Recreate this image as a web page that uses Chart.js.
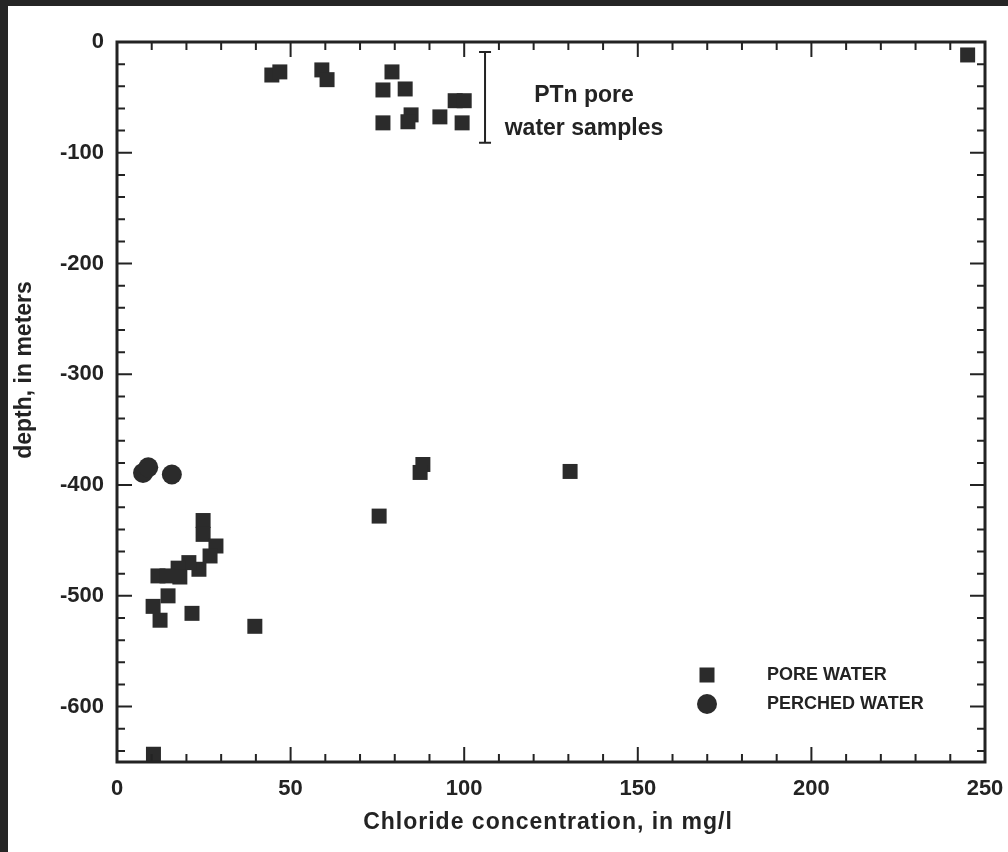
<!DOCTYPE html>
<html>
<head>
<meta charset="utf-8">
<script src="https://cdn.jsdelivr.net/npm/chart.js@4"></script>
<style>
  html, body { margin: 0; padding: 0; background: #fff; }
  #wrap { width: 1008px; height: 852px; position: relative; }
</style>
</head>
<body>
<div id="wrap"><canvas id="c" width="1008" height="852"></canvas></div>
<script>
// Pore water samples (chloride mg/l, depth m)
const poreX = [44.6, 46.9, 59.0, 60.5, 79.2, 76.6, 83.0, 76.6, 84.7, 83.8, 93.0, 97.4, 100.0, 99.4, 245.0,
               24.8, 24.8, 28.5, 26.8, 23.6, 20.7, 17.6, 18.1, 11.8, 14.4, 14.7, 10.4, 12.4, 21.6, 39.7,
               75.5, 88.1, 87.3, 130.5, 10.5];
const poreY = [-29.8, -27, -25.2, -34, -27, -43.3, -42.4, -73, -65.8, -72, -67.6, -53, -53, -73, -11.7,
               -432, -444.5, -455, -464, -476, -470, -475, -483, -482, -482, -500, -509.5, -522, -515.8, -527.5,
               -428, -381.4, -388.6, -387.7, -643];
// Perched water samples
const perchedX = [7.5, 9.0, 15.8];
const perchedY = [-389, -384, -390.5];

// Axis ranges and ticks
const xMin = 0, xMax = 250, xMajor = 50, xMinor = 10;
const yMin = -650, yMax = 0, yMajor = 100, yMinor = 20;

// PTn bracket annotation (data units)
const bracketX = 106, bracketTop = -9, bracketBottom = -91;
const bracketLabel = ['PTn pore', 'water samples'];
const bracketLabelX = 134.5, bracketLabelY = [-48, -78];

const seriesLabels = ['PORE WATER', 'PERCHED WATER'];
const ink = '#232323';
const markColor = '#2b2b2b';
const fontFamily = '"Liberation Sans", Arial, Helvetica, sans-serif';

const toPoints = (xs, ys) => xs.map((x, i) => ({ x: x, y: ys[i] }));

// Frame, inward ticks, annotation, legend, axis titles
const decorPlugin = {
    id: 'decor',
    beforeDraw(chart) {
        const ctx = chart.ctx;
        ctx.save();
        ctx.fillStyle = '#ffffff';
        ctx.fillRect(0, 0, chart.width, chart.height);
        // dark scan border on left and top
        ctx.fillStyle = '#262626';
        ctx.fillRect(0, 0, 8, chart.height);
        ctx.fillRect(0, 0, chart.width, 6);
        ctx.restore();
    },
    afterDatasetsDraw(chart) {
        const ctx = chart.ctx;
        const ca = chart.chartArea;
        const xs = chart.scales.x, ys = chart.scales.y;
        ctx.save();
        ctx.strokeStyle = ink;
        ctx.lineCap = 'butt';

        // inward ticks
        ctx.lineWidth = 2;
        ctx.beginPath();
        for (let v = xMin + xMinor; v < xMax; v += xMinor) {
            const px = xs.getPixelForValue(v);
            const len = v % xMajor === 0 ? 15 : 8;
            ctx.moveTo(px, ca.bottom); ctx.lineTo(px, ca.bottom - len);
            ctx.moveTo(px, ca.top); ctx.lineTo(px, ca.top + len);
        }
        for (let v = yMax - yMinor; v > yMin; v -= yMinor) {
            const py = ys.getPixelForValue(v);
            const len = v % yMajor === 0 ? 15 : 8;
            ctx.moveTo(ca.left, py); ctx.lineTo(ca.left + len, py);
            ctx.moveTo(ca.right, py); ctx.lineTo(ca.right - len, py);
        }
        ctx.stroke();

        // frame
        ctx.lineWidth = 3;
        ctx.strokeRect(ca.left, ca.top, ca.right - ca.left, ca.bottom - ca.top);

        // PTn bracket
        const bx = xs.getPixelForValue(bracketX);
        const bt = ys.getPixelForValue(bracketTop);
        const bb = ys.getPixelForValue(bracketBottom);
        ctx.lineWidth = 2;
        ctx.beginPath();
        ctx.moveTo(bx, bt); ctx.lineTo(bx, bb);
        ctx.moveTo(bx - 6, bt); ctx.lineTo(bx + 6, bt);
        ctx.moveTo(bx - 6, bb); ctx.lineTo(bx + 6, bb);
        ctx.stroke();

        ctx.fillStyle = ink;
        ctx.font = 'bold 23px ' + fontFamily;
        ctx.textAlign = 'center';
        ctx.textBaseline = 'middle';
        bracketLabel.forEach((t, i) => {
            ctx.fillText(t, xs.getPixelForValue(bracketLabelX), ys.getPixelForValue(bracketLabelY[i]));
        });

        // legend
        const lx = ca.right - 278;
        const ly = [ca.bottom - 87, ca.bottom - 58];
        ctx.fillStyle = markColor;
        ctx.fillRect(lx - 7.5, ly[0] - 7.5, 15, 15);
        ctx.beginPath();
        ctx.arc(lx, ly[1], 10, 0, Math.PI * 2);
        ctx.fill();
        ctx.fillStyle = ink;
        ctx.font = 'bold 18px ' + fontFamily;
        ctx.textAlign = 'left';
        ctx.textBaseline = 'middle';
        seriesLabels.forEach((t, i) => ctx.fillText(t, lx + 60, ly[i]));

        // axis titles
        ctx.font = 'bold 23px ' + fontFamily;
        ctx.textAlign = 'center';
        ctx.textBaseline = 'alphabetic';
        ctx.letterSpacing = '1px';
        ctx.fillText('Chloride concentration, in mg/l', 548, 829);
        ctx.letterSpacing = '0px';
        ctx.translate(25, 370);
        ctx.rotate(-Math.PI / 2);
        ctx.textBaseline = 'middle';
        ctx.fillText('depth, in meters', 0, 0);
        ctx.restore();
    }
};

new Chart(document.getElementById('c'), {
    type: 'scatter',
    data: {
        datasets: [
            {
                label: seriesLabels[0],
                data: toPoints(poreX, poreY),
                pointStyle: 'rect',
                pointRadius: 10.6,
                pointHoverRadius: 10.6,
                backgroundColor: markColor,
                borderColor: markColor,
                borderWidth: 0,
                clip: 0
            },
            {
                label: seriesLabels[1],
                data: toPoints(perchedX, perchedY),
                pointStyle: 'circle',
                pointRadius: 10,
                pointHoverRadius: 10,
                backgroundColor: markColor,
                borderColor: markColor,
                borderWidth: 0,
                clip: 0
            }
        ]
    },
    options: {
        responsive: false,
        animation: false,
        events: [],
        layout: { padding: { top: 42, right: 23, bottom: 0, left: 0 } },
        scales: {
            x: {
                type: 'linear',
                min: xMin,
                max: xMax,
                afterFit: s => { s.height = 90; s.paddingLeft = 0; s.paddingRight = 0; },
                ticks: {
                    stepSize: xMajor,
                    color: ink,
                    font: { family: fontFamily, size: 22, weight: 'bold' },
                    padding: 14,
                    maxRotation: 0
                },
                grid: { display: false, drawTicks: false },
                border: { display: false }
            },
            y: {
                type: 'linear',
                min: yMin,
                max: yMax,
                afterFit: s => { s.width = 117; s.paddingTop = 0; s.paddingBottom = 0; },
                ticks: {
                    stepSize: yMajor,
                    includeBounds: false,
                    color: ink,
                    font: { family: fontFamily, size: 22, weight: 'bold' },
                    padding: 13
                },
                grid: { display: false, drawTicks: false },
                border: { display: false }
            }
        },
        plugins: {
            legend: { display: false },
            tooltip: { enabled: false }
        }
    },
    plugins: [decorPlugin]
});
</script>
</body>
</html>
